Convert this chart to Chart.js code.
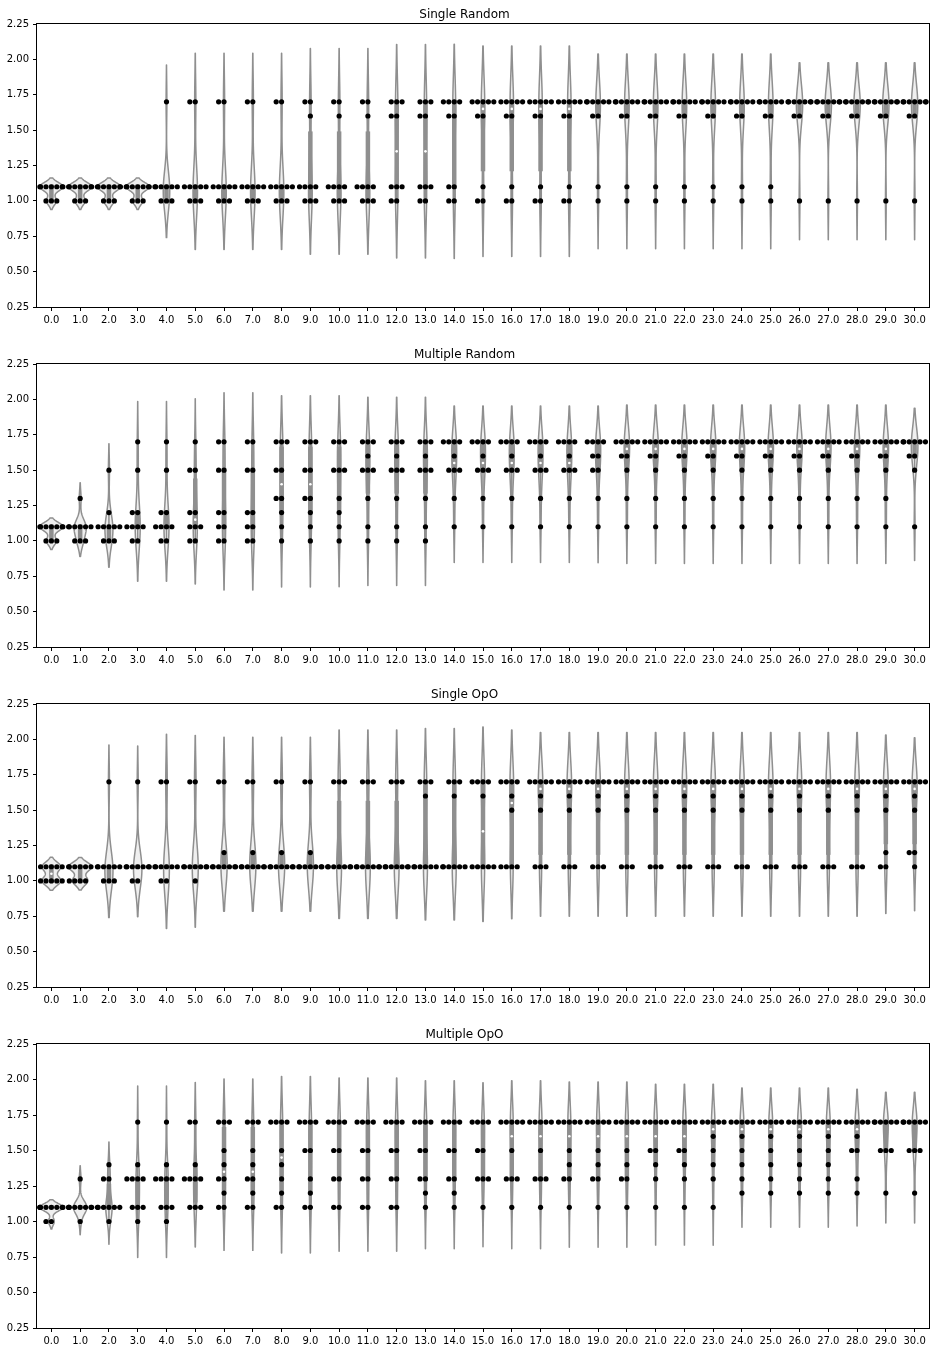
<!DOCTYPE html>
<html><head><meta charset="utf-8">
<script src="https://cdn.jsdelivr.net/npm/chart.js@4.4.1/dist/chart.umd.min.js"></script>
<style>
html,body{margin:0;padding:0;background:#fff;width:936px;height:1352px;overflow:hidden}
canvas{position:absolute;left:0}
</style></head>
<body>
<canvas id="c0" width="936" height="340" style="top:0px"></canvas>
<canvas id="c1" width="936" height="340" style="top:340px"></canvas>
<canvas id="c2" width="936" height="340" style="top:680px"></canvas>
<canvas id="c3" width="936" height="332" style="top:1020px"></canvas>
<script>
// ---------- data ----------
const categories = [0,1,2,3,4,5,6,7,8,9,10,11,12,13,14,15,16,17,18,19,20,21,22,23,24,25,26,27,28,29,30];
const xTickLabels = ['0.0','1.0','2.0','3.0','4.0','5.0','6.0','7.0','8.0','9.0','10.0','11.0','12.0','13.0','14.0','15.0','16.0','17.0','18.0','19.0','20.0','21.0','22.0','23.0','24.0','25.0','26.0','27.0','28.0','29.0','30.0'];
const yTicks = [0.25,0.5,0.75,1.0,1.25,1.5,1.75,2.0,2.25];
const yTickLabels = ['0.25','0.50','0.75','1.00','1.25','1.50','1.75','2.00','2.25'];
const titles = ['Single Random','Multiple Random','Single OpO','Multiple OpO'];

// observations per category, as [value, count] pairs
const singleRandom = [
  [[1.1,7],[1.0,3]],
  [[1.1,7],[1.0,3]],
  [[1.1,7],[1.0,3]],
  [[1.1,7],[1.0,3]],
  [[1.7,1],[1.1,6],[1.0,3]],
  [[1.7,2],[1.1,5],[1.0,3]],
  [[1.7,2],[1.1,5],[1.0,3]],
  [[1.7,2],[1.1,5],[1.0,3]],
  [[1.7,2],[1.1,5],[1.0,3]],
  [[1.7,2],[1.6,1],[1.1,4],[1.0,3]],
  [[1.7,2],[1.6,1],[1.1,4],[1.0,3]],
  [[1.7,2],[1.6,1],[1.1,4],[1.0,3]],
  [[1.7,3],[1.6,2],[1.1,3],[1.0,2]],
  [[1.7,3],[1.6,2],[1.1,3],[1.0,2]],
  [[1.7,4],[1.6,2],[1.1,2],[1.0,2]],
  [[1.7,5],[1.6,2],[1.1,1],[1.0,2]],
  [[1.7,5],[1.6,2],[1.1,1],[1.0,2]],
  [[1.7,5],[1.6,2],[1.1,1],[1.0,2]],
  [[1.7,5],[1.6,2],[1.1,1],[1.0,2]],
  [[1.7,6],[1.6,2],[1.1,1],[1.0,1]],
  [[1.7,6],[1.6,2],[1.1,1],[1.0,1]],
  [[1.7,6],[1.6,2],[1.1,1],[1.0,1]],
  [[1.7,6],[1.6,2],[1.1,1],[1.0,1]],
  [[1.7,6],[1.6,2],[1.1,1],[1.0,1]],
  [[1.7,6],[1.6,2],[1.1,1],[1.0,1]],
  [[1.7,6],[1.6,2],[1.1,1],[1.0,1]],
  [[1.7,7],[1.6,2],[1.0,1]],
  [[1.7,7],[1.6,2],[1.0,1]],
  [[1.7,7],[1.6,2],[1.0,1]],
  [[1.7,7],[1.6,2],[1.0,1]],
  [[1.7,7],[1.6,2],[1.0,1]]
];
const multipleRandom = [
  [[1.1,7],[1.0,3]],
  [[1.3,1],[1.1,6],[1.0,3]],
  [[1.5,1],[1.2,1],[1.1,5],[1.0,3]],
  [[1.7,1],[1.5,1],[1.2,2],[1.1,4],[1.0,2]],
  [[1.7,1],[1.5,1],[1.2,2],[1.1,4],[1.0,2]],
  [[1.7,1],[1.5,2],[1.2,2],[1.1,3],[1.0,2]],
  [[1.7,2],[1.5,2],[1.2,2],[1.1,2],[1.0,2]],
  [[1.7,2],[1.5,2],[1.2,2],[1.1,2],[1.0,2]],
  [[1.7,3],[1.5,2],[1.3,2],[1.2,1],[1.1,1],[1.0,1]],
  [[1.7,3],[1.5,2],[1.3,2],[1.2,1],[1.1,1],[1.0,1]],
  [[1.7,3],[1.5,3],[1.3,1],[1.2,1],[1.1,1],[1.0,1]],
  [[1.7,3],[1.6,1],[1.5,3],[1.3,1],[1.1,1],[1.0,1]],
  [[1.7,3],[1.6,1],[1.5,3],[1.3,1],[1.1,1],[1.0,1]],
  [[1.7,3],[1.6,1],[1.5,3],[1.3,1],[1.1,1],[1.0,1]],
  [[1.7,4],[1.6,1],[1.5,3],[1.3,1],[1.1,1]],
  [[1.7,4],[1.6,1],[1.5,3],[1.3,1],[1.1,1]],
  [[1.7,4],[1.6,1],[1.5,3],[1.3,1],[1.1,1]],
  [[1.7,4],[1.6,1],[1.5,3],[1.3,1],[1.1,1]],
  [[1.7,4],[1.6,1],[1.5,3],[1.3,1],[1.1,1]],
  [[1.7,4],[1.6,2],[1.5,2],[1.3,1],[1.1,1]],
  [[1.7,5],[1.6,2],[1.5,1],[1.3,1],[1.1,1]],
  [[1.7,5],[1.6,2],[1.5,1],[1.3,1],[1.1,1]],
  [[1.7,5],[1.6,2],[1.5,1],[1.3,1],[1.1,1]],
  [[1.7,5],[1.6,2],[1.5,1],[1.3,1],[1.1,1]],
  [[1.7,5],[1.6,2],[1.5,1],[1.3,1],[1.1,1]],
  [[1.7,5],[1.6,2],[1.5,1],[1.3,1],[1.1,1]],
  [[1.7,5],[1.6,2],[1.5,1],[1.3,1],[1.1,1]],
  [[1.7,5],[1.6,2],[1.5,1],[1.3,1],[1.1,1]],
  [[1.7,5],[1.6,2],[1.5,1],[1.3,1],[1.1,1]],
  [[1.7,5],[1.6,2],[1.5,1],[1.3,1],[1.1,1]],
  [[1.7,6],[1.6,2],[1.5,1],[1.1,1]]
];
const singleOpO = [
  [[1.1,5],[1.0,5]],
  [[1.1,6],[1.0,4]],
  [[1.7,1],[1.1,6],[1.0,3]],
  [[1.7,1],[1.1,7],[1.0,2]],
  [[1.7,2],[1.1,6],[1.0,2]],
  [[1.7,2],[1.1,7],[1.0,1]],
  [[1.7,2],[1.2,1],[1.1,7]],
  [[1.7,2],[1.2,1],[1.1,7]],
  [[1.7,2],[1.2,1],[1.1,7]],
  [[1.7,2],[1.2,1],[1.1,7]],
  [[1.7,3],[1.1,7]],
  [[1.7,3],[1.1,7]],
  [[1.7,3],[1.1,7]],
  [[1.7,3],[1.6,1],[1.1,6]],
  [[1.7,3],[1.6,1],[1.1,6]],
  [[1.7,4],[1.6,1],[1.1,5]],
  [[1.7,4],[1.6,1],[1.5,1],[1.1,4]],
  [[1.7,5],[1.6,1],[1.5,1],[1.1,3]],
  [[1.7,5],[1.6,1],[1.5,1],[1.1,3]],
  [[1.7,5],[1.6,1],[1.5,1],[1.1,3]],
  [[1.7,5],[1.6,1],[1.5,1],[1.1,3]],
  [[1.7,5],[1.6,1],[1.5,1],[1.1,3]],
  [[1.7,5],[1.6,1],[1.5,1],[1.1,3]],
  [[1.7,5],[1.6,1],[1.5,1],[1.1,3]],
  [[1.7,5],[1.6,1],[1.5,1],[1.1,3]],
  [[1.7,5],[1.6,1],[1.5,1],[1.1,3]],
  [[1.7,5],[1.6,1],[1.5,1],[1.1,3]],
  [[1.7,5],[1.6,1],[1.5,1],[1.1,3]],
  [[1.7,5],[1.6,1],[1.5,1],[1.1,3]],
  [[1.7,5],[1.6,1],[1.5,1],[1.2,1],[1.1,2]],
  [[1.7,5],[1.6,1],[1.5,1],[1.2,2],[1.1,1]]
];
const multipleOpO = [
  [[1.1,8],[1.0,2]],
  [[1.3,1],[1.1,8],[1.0,1]],
  [[1.4,1],[1.3,2],[1.1,6],[1.0,1]],
  [[1.7,1],[1.4,1],[1.3,4],[1.1,3],[1.0,1]],
  [[1.7,1],[1.4,1],[1.3,4],[1.1,3],[1.0,1]],
  [[1.7,2],[1.4,1],[1.3,4],[1.1,3]],
  [[1.7,3],[1.5,1],[1.4,1],[1.3,2],[1.2,1],[1.1,2]],
  [[1.7,3],[1.5,1],[1.4,1],[1.3,2],[1.2,1],[1.1,2]],
  [[1.7,4],[1.5,1],[1.4,1],[1.3,1],[1.2,1],[1.1,2]],
  [[1.7,4],[1.5,2],[1.3,1],[1.2,1],[1.1,2]],
  [[1.7,4],[1.5,2],[1.3,2],[1.1,2]],
  [[1.7,4],[1.5,2],[1.3,2],[1.1,2]],
  [[1.7,4],[1.5,2],[1.3,2],[1.1,2]],
  [[1.7,4],[1.5,2],[1.3,2],[1.2,1],[1.1,1]],
  [[1.7,4],[1.5,2],[1.3,2],[1.2,1],[1.1,1]],
  [[1.7,4],[1.5,2],[1.3,3],[1.1,1]],
  [[1.7,5],[1.5,1],[1.3,3],[1.1,1]],
  [[1.7,5],[1.5,1],[1.3,3],[1.1,1]],
  [[1.7,5],[1.5,1],[1.4,1],[1.3,2],[1.1,1]],
  [[1.7,5],[1.5,1],[1.4,1],[1.3,2],[1.1,1]],
  [[1.7,5],[1.5,1],[1.4,1],[1.3,2],[1.1,1]],
  [[1.7,5],[1.5,2],[1.4,1],[1.3,1],[1.1,1]],
  [[1.7,5],[1.5,2],[1.4,1],[1.3,1],[1.1,1]],
  [[1.7,5],[1.6,1],[1.5,1],[1.4,1],[1.3,1],[1.1,1]],
  [[1.7,5],[1.6,1],[1.5,1],[1.4,1],[1.3,1],[1.2,1]],
  [[1.7,5],[1.6,1],[1.5,1],[1.4,1],[1.3,1],[1.2,1]],
  [[1.7,5],[1.6,1],[1.5,1],[1.4,1],[1.3,1],[1.2,1]],
  [[1.7,5],[1.6,1],[1.5,1],[1.4,1],[1.3,1],[1.2,1]],
  [[1.7,5],[1.6,1],[1.5,2],[1.3,1],[1.2,1]],
  [[1.7,6],[1.5,3],[1.2,1]],
  [[1.7,6],[1.5,3],[1.2,1]]
];
const panels = [singleRandom, multipleRandom, singleOpO, multipleOpO];

// ---------- styling / helpers ----------
const FONT = 'DejaVu Sans';
const VIOLIN_FILL = '#efefef';
const VIOLIN_LINE = '#8f8f8f';
const HALF_WIDTH = 0.4;       // violin / swarm half width in category units
const SWARM_STEP = 0.188;     // dot spacing in category units
const obsByCanvas = {};

function expand(pairs) {
  const out = [];
  pairs.forEach(([v, n]) => { for (let i = 0; i < n; i++) out.push(v); });
  return out.sort((a, b) => a - b);
}
function percentile(sorted, p) {
  const pos = (sorted.length - 1) * p;
  const lo = Math.floor(pos), hi = Math.ceil(pos);
  return sorted[lo] + (sorted[hi] - sorted[lo]) * (pos - lo);
}
function kde(vals) {
  const n = vals.length;
  const mean = vals.reduce((a, b) => a + b, 0) / n;
  const sd = Math.sqrt(vals.reduce((a, b) => a + (b - mean) * (b - mean), 0) / (n - 1));
  const bw = sd * Math.pow(n, -0.2);
  const lo = vals[0] - 2 * bw, hi = vals[n - 1] + 2 * bw;
  const ys = [], ds = [];
  const G = 100;
  for (let i = 0; i < G; i++) {
    const y = lo + (hi - lo) * i / (G - 1);
    let s = 0;
    for (const v of vals) { const z = (y - v) / bw; s += Math.exp(-0.5 * z * z); }
    ys.push(y); ds.push(s / (n * bw * Math.sqrt(2 * Math.PI)));
  }
  return { ys, ds };
}
function swarmPoints(obsList) {
  const pts = [];
  obsList.forEach((vals, c) => {
    const seen = {};
    vals.forEach(v => {
      const k = v.toFixed(2);
      const i = seen[k] || 0; seen[k] = i + 1;
      const idx = i === 0 ? 0 : (i % 2 === 1 ? -(i + 1) / 2 : i / 2);
      let off = idx * SWARM_STEP;
      off = Math.max(-HALF_WIDTH, Math.min(HALF_WIDTH, off));
      pts.push({ x: categories[c] + off, y: v });
    });
  });
  return pts;
}

const violinPlugin = {
  id: 'violins',
  beforeDatasetsDraw(chart) {
    const obs = obsByCanvas[chart.canvas.id];
    if (!obs) return;
    const xs = chart.scales.x, ys = chart.scales.y;
    const ctx = chart.ctx;
    const kdes = obs.map(kde);
    let gmax = 0;
    kdes.forEach(k => k.ds.forEach(d => { if (d > gmax) gmax = d; }));
    const area = chart.chartArea;
    ctx.save();
    ctx.beginPath();
    ctx.rect(area.left, area.top, area.right - area.left, area.bottom - area.top);
    ctx.clip();
    kdes.forEach((k, c) => {
      const cx = categories[c];
      ctx.beginPath();
      for (let i = 0; i < k.ys.length; i++) {
        const w = k.ds[i] / gmax * HALF_WIDTH;
        const px = xs.getPixelForValue(cx - w), py = ys.getPixelForValue(k.ys[i]);
        if (i === 0) ctx.moveTo(px, py); else ctx.lineTo(px, py);
      }
      for (let i = k.ys.length - 1; i >= 0; i--) {
        const w = k.ds[i] / gmax * HALF_WIDTH;
        ctx.lineTo(xs.getPixelForValue(cx + w), ys.getPixelForValue(k.ys[i]));
      }
      ctx.closePath();
      ctx.fillStyle = VIOLIN_FILL;
      ctx.fill();
      ctx.lineWidth = 1.5;
      ctx.strokeStyle = VIOLIN_LINE;
      ctx.lineJoin = 'round';
      ctx.stroke();
    });
    obs.forEach((vals, c) => {
      const cx = xs.getPixelForValue(categories[c]);
      const q25 = percentile(vals, 0.25), q50 = percentile(vals, 0.5), q75 = percentile(vals, 0.75);
      const lim = 1.5 * (q75 - q25);
      const h1 = Math.min(...vals.filter(v => v >= q25 - lim));
      const h2 = Math.max(...vals.filter(v => v <= q75 + lim));
      ctx.strokeStyle = VIOLIN_LINE;
      ctx.lineCap = 'butt';
      ctx.lineWidth = 1.5;
      ctx.beginPath();
      ctx.moveTo(cx, ys.getPixelForValue(h1)); ctx.lineTo(cx, ys.getPixelForValue(h2));
      ctx.stroke();
      ctx.lineWidth = 4.5;
      ctx.lineCap = 'square';
      ctx.beginPath();
      ctx.moveTo(cx, ys.getPixelForValue(q25)); ctx.lineTo(cx, ys.getPixelForValue(q75));
      ctx.stroke();
      ctx.fillStyle = '#ffffff';
      ctx.beginPath();
      ctx.arc(cx, ys.getPixelForValue(q50), 1.3, 0, Math.PI * 2);
      ctx.fill();
    });
    ctx.restore();
  },
  afterDraw(chart) {
    const a = chart.chartArea, ctx = chart.ctx;
    ctx.save();
    ctx.strokeStyle = '#000';
    ctx.lineWidth = 1;
    const l = Math.round(a.left) - 0.5, t = Math.round(a.top) - 0.5;
    const r = Math.round(a.right) + 0.5, b = Math.round(a.bottom) + 0.5;
    ctx.strokeRect(l, t, r - l, b - t);
    ctx.restore();
  }
};

function makeChart(k) {
  const canvas = document.getElementById('c' + k);
  const obs = panels[k].map(expand);
  obsByCanvas[canvas.id] = obs;
  const axisH = canvas.height - (k === 3 ? 308 : 307);
  new Chart(canvas.getContext('2d'), {
    type: 'scatter',
    data: {
      datasets: [{
        data: swarmPoints(obs),
        pointRadius: 2.6,
        pointHoverRadius: 2.6,
        pointBackgroundColor: '#000',
        pointBorderWidth: 0,
        borderWidth: 0
      }]
    },
    options: {
      responsive: false,
      animation: false,
      events: [],
      devicePixelRatio: 1,
      layout: { padding: { left: 0, right: 7, top: 0, bottom: 0 } },
      plugins: {
        legend: { display: false },
        tooltip: { enabled: false },
        title: {
          display: true, text: titles[k], color: '#000',
          font: { family: FONT, size: 12, weight: 'normal', lineHeight: 1.2 },
          padding: { top: 7.5, bottom: 2.1 }
        }
      },
      scales: {
        x: {
          type: 'linear', min: -0.5, max: 30.5,
          afterBuildTicks: s => { s.ticks = categories.map(v => ({ value: v })); },
          afterFit: s => { s.height = axisH; },
          ticks: {
            autoSkip: false, maxRotation: 0, minRotation: 0, padding: 3,
            color: '#000', font: { family: FONT, size: 10 },
            callback: (v, i) => xTickLabels[i]
          },
          grid: { display: true, drawOnChartArea: false, drawTicks: true, tickLength: 4, color: '#000', lineWidth: 1 },
          border: { display: false }
        },
        y: {
          type: 'linear', min: 0.25, max: 2.25,
          afterBuildTicks: s => { s.ticks = yTicks.map(v => ({ value: v })); },
          afterFit: s => { s.width = 37; },
          ticks: {
            padding: 4, color: '#000', font: { family: FONT, size: 10 },
            callback: (v, i) => yTickLabels[i]
          },
          grid: { display: true, drawOnChartArea: false, drawTicks: true, tickLength: 4, color: '#000', lineWidth: 1 },
          border: { display: false }
        }
      }
    },
    plugins: [violinPlugin]
  });
}
[0, 1, 2, 3].forEach(makeChart);
</script>
</body></html>
